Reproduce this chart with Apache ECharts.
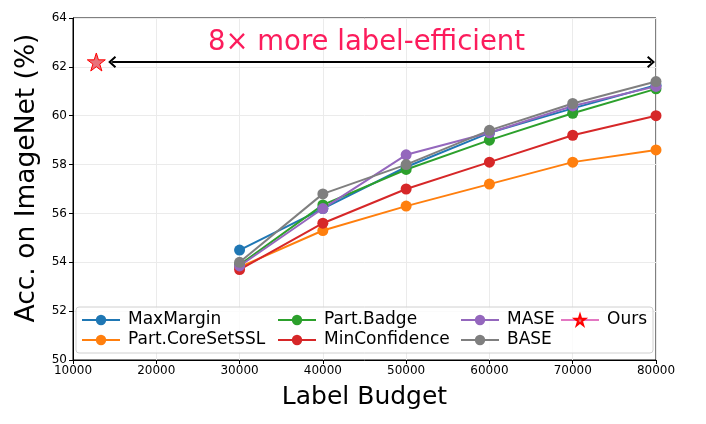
<!DOCTYPE html>
<html>
<head>
<meta charset="utf-8">
<script src="https://cdn.jsdelivr.net/npm/echarts@6/dist/echarts.min.js"></script>
<style>
  html, body { margin: 0; padding: 0; background: #fff; }
  #chart { width: 706px; height: 424px; }
</style>
</head>
<body>
<div id="chart"></div>
<script>
// label budgets (x)
var budgets = [30000, 40000, 50000, 60000, 70000, 80000];

// accuracy per method
var maxMargin     = [54.5, 56.2, 57.9, 59.3, 60.3, 61.25];
var coreSetSSL    = [53.8, 55.3, 56.3, 57.2, 58.1, 58.6];
var partBadge     = [53.9, 56.35, 57.8, 59.0, 60.1, 61.1];
var minConfidence = [53.7, 55.6, 57.0, 58.1, 59.2, 60.0];
var mase          = [53.85, 56.2, 58.4, 59.3, 60.4, 61.2];
var base          = [54.0, 56.8, 58.0, 59.4, 60.5, 61.4];

// our single point
var oursBudget = [12800];
var oursAcc = [62.2];

// arrow span for the annotation
var arrowRange = [14700, 79400];
var arrowLevel = 62.2;

var yTicks = [50, 52, 54, 56, 58, 60, 62, 64];

var FONT = 'DejaVu Sans';
var starPath = 'path://M50,2 L61.2,36.5 L97.6,36.5 L68.2,57.9 L79.4,92.4 L50,71.1 L20.6,92.4 L31.8,57.9 L2.4,36.5 L38.8,36.5 Z';
var chevron = 'path://M0,10 L10,0 L20,10 L17.6,12 L10,4.6 L2.4,12 Z';

function pairs(ys) {
    return budgets.map(function (b, i) { return [b, ys[i]]; });
}

function lineSeries(name, color, ys) {
    return {
        name: name,
        type: 'line',
        data: pairs(ys),
        symbol: 'circle',
        symbolSize: 11,
        showAllSymbol: true,
        lineStyle: { color: color, width: 2 },
        itemStyle: { color: color },
        emphasis: { disabled: true },
        animation: false
    };
}

var series = [
    lineSeries('MaxMargin', '#1f77b4', maxMargin),
    lineSeries('Part.CoreSetSSL', '#ff7f0e', coreSetSSL),
    lineSeries('Part.Badge', '#2ca02c', partBadge),
    lineSeries('MinConfidence', '#d62728', minConfidence),
    lineSeries('MASE', '#9467bd', mase),
    lineSeries('BASE', '#7f7f7f', base),
    {
        name: 'Ours',
        type: 'line',
        data: oursBudget.map(function (b, i) { return [b, oursAcc[i]]; }),
        symbol: starPath,
        symbolSize: 18,
        lineStyle: { color: '#e377c2', width: 2 },
        itemStyle: { color: '#e8727a', borderColor: '#ff0000', borderWidth: 1 },
        emphasis: { disabled: true },
        animation: false,
        z: 5,
        markLine: {
            silent: true,
            animation: false,
            symbol: [chevron, chevron],
            symbolSize: [12, 8],
            label: { show: false },
            lineStyle: { color: '#000', width: 2, type: 'solid' },
            data: [[
                { coord: [arrowRange[0], arrowLevel] },
                { coord: [arrowRange[1], arrowLevel] }
            ]]
        }
    }
];

function legendCol(left, names) {
    return {
        orient: 'vertical',
        left: left,
        top: 306,
        z: 10,
        data: names,
        itemWidth: 38,
        itemHeight: 13,
        itemGap: 2,
        selectedMode: false,
        textStyle: { fontFamily: FONT, fontSize: 17, color: '#000', lineHeight: 18, padding: [0, 0, 0, 3] }
    };
}

var option = {
    animation: false,
    textStyle: { fontFamily: FONT },
    grid: { left: 73, right: 50, top: 18, bottom: 64, show: true, borderColor: '#000', borderWidth: 1 },
    graphic: [
        {
            type: 'rect',
            shape: { x: 76, y: 307, width: 577, height: 46, r: 3 },
            style: { fill: 'rgba(255,255,255,0.8)', stroke: '#d0d0d0', lineWidth: 1 },
            z: 3
        },
        {
            type: 'text',
            left: 208, top: 29,
            style: { text: '8\u00d7 more label-efficient', fill: '#fc1c5c', font: '27.5px "DejaVu Sans"' },
            z: 60
        }
    ],
    legend: [
        legendCol(76, ['MaxMargin', 'Part.CoreSetSSL']),
        legendCol(272, ['Part.Badge', 'MinConfidence']),
        legendCol(455, ['MASE', 'BASE']),
        legendCol(555, ['Ours'])
    ],
    xAxis: {
        type: 'value',
        min: 10000, max: 80000, interval: 10000,
        name: 'Label Budget',
        nameLocation: 'middle',
        nameGap: 25,
        nameTextStyle: { fontFamily: FONT, fontSize: 25, color: '#000' },
        axisLine: { show: true, lineStyle: { color: '#000', width: 1 } },
        axisTick: { show: true, length: 4, lineStyle: { color: '#000' } },
        axisLabel: { fontFamily: FONT, fontSize: 12, color: '#000', margin: 5, formatter: function (v) { return String(v); } },
        splitLine: { show: true, lineStyle: { color: '#ebebeb', width: 1 } }
    },
    yAxis: {
        type: 'value',
        min: yTicks[0], max: yTicks[yTicks.length - 1], interval: 2,
        name: 'Acc. on ImageNet (%)',
        nameLocation: 'middle',
        nameGap: 31,
        nameTextStyle: { fontFamily: FONT, fontSize: 26.5, color: '#000', padding: [0, 0, 0, 22] },
        axisLine: { show: true, lineStyle: { color: '#000', width: 1 } },
        axisTick: { show: true, length: 4, lineStyle: { color: '#000' } },
        axisLabel: { fontFamily: FONT, fontSize: 12, color: '#000', margin: 6 },
        splitLine: { show: true, lineStyle: { color: '#ebebeb', width: 1 } }
    },
    series: series
};

var chart = echarts.init(document.getElementById('chart'), null, { renderer: 'canvas' });
chart.setOption(option);
</script>
</body>
</html>
